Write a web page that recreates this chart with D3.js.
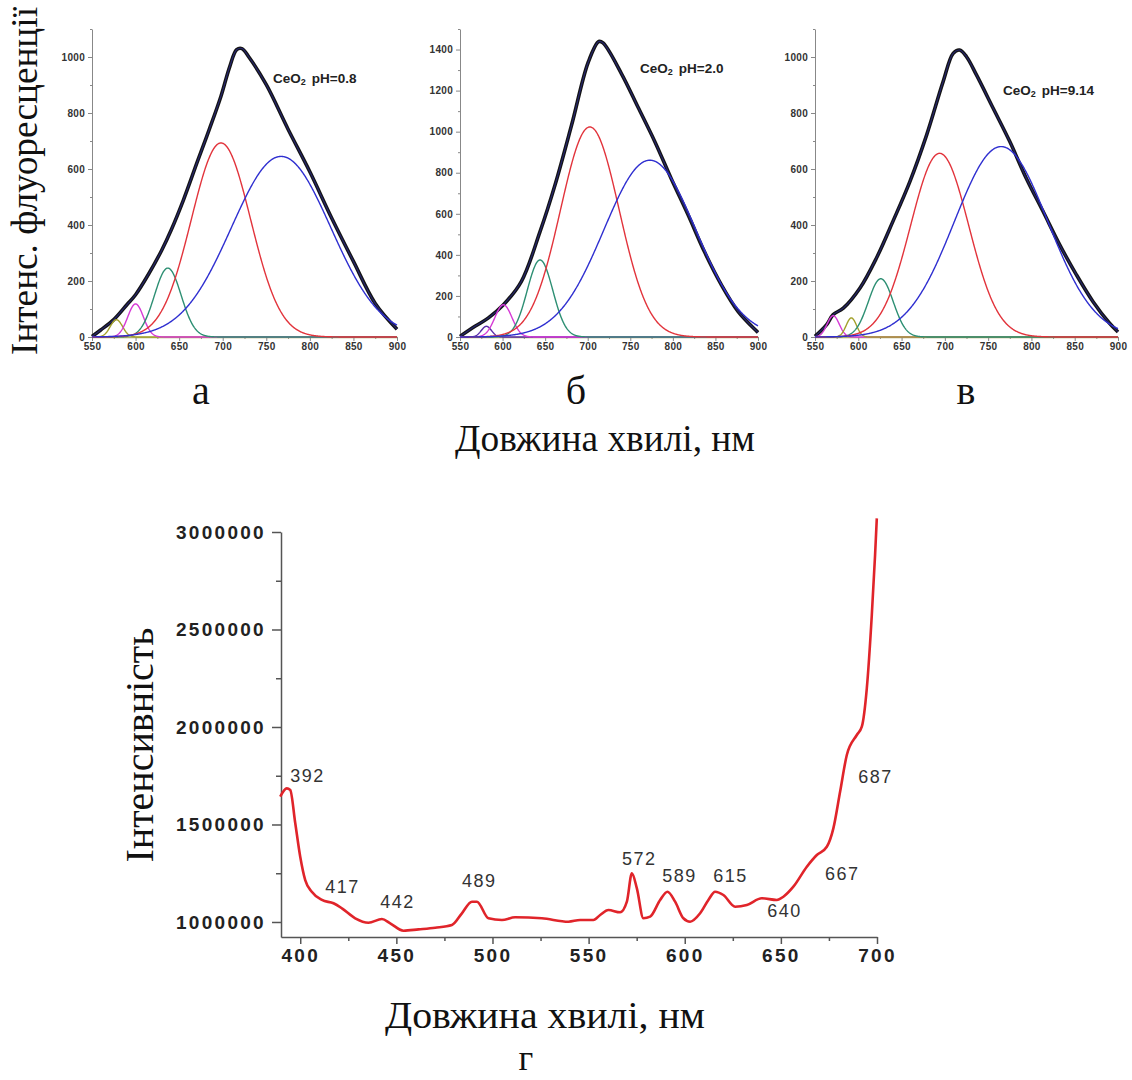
<!DOCTYPE html>
<html>
<head>
<meta charset="utf-8">
<script src="https://cdn.jsdelivr.net/npm/d3@7/dist/d3.min.js"></script>
<style>
  body { margin: 0; background: #fff; }
  .small .tick text { font-family: "Liberation Sans", Arial, sans-serif; font-weight: bold; font-size: 10px; fill: #333; letter-spacing: 0.3px; }
  .big .tick text { font-family: "Liberation Sans", Arial, sans-serif; font-weight: bold; font-size: 19px; fill: #222; letter-spacing: 2.3px; }
  .serif { font-family: "Liberation Serif", "Times New Roman", serif; fill: #111; }
</style>
</head>
<body>
<div id="chart"></div>
<script>

var measuredA = [[550,2],[560,25],[575,62],[590,115],[600,151],[615,225],[630,310],[641,383],[655,490],[671,627],[685,745],[698,860],[708,965],[716,1026],[722,1030],[730,1000],[750,901],[775,742],[800,590],[825,425],[850,270],[875,120],[900,28]];
var measuredB = [[550,3],[567.6,52],[583,92],[601,157],[622,270],[644,513],[661.5,739],[681,1031],[700.6,1338],[713,1439],[718,1432],[739.7,1282],[759,1120],[779,950],[798,772],[818,594],[837,416],[857,254],[876.5,125],[898,30],[900,22]];
var measuredC = [[550,2],[563.5,44],[571,80],[582.7,103],[602,175],[621,282],[640,413],[659.6,555],[679,722],[698,912],[709.6,1013],[717,1025],[725,1001],[736.5,936],[755.8,817],[775,698],[794,567],[813.5,448],[832.7,329],[852,222],[871,127],[890,50],[900,18]];

// ---- fitted gaussian components: centre (nm), height, sigma (nm) ----
var centersA = [578, 600, 637, 698, 767];
var heightsA = [62, 118, 246, 693, 645];
var sigmasA  = [7, 9, 15.3, 34, 57];

var centersB = [581, 601, 644, 702.5, 773];
var heightsB = [52, 157, 375, 1023, 861];
var sigmasB  = [6, 10, 15, 34.4, 54];

var centersC = [571, 592, 626, 694, 765];
var heightsC = [76, 68, 208, 656, 680];
var sigmasC  = [7, 6, 14.4, 33.6, 54];

var panelLabels = ["а", "б", "в"];
var sampleNames = ["pH=0.8", "pH=2.0", "pH=9.14"];

// ---- bottom spectrum (г) ----
var spectrumG = [[389.6,1642600],[393,1685000],[394.8,1677000],[397.4,1507700],[400,1334900],[402.6,1215000],[406,1155000],[411.3,1112800],[417.3,1095900],[421.7,1070000],[428.6,1019000],[435.5,996400],[442.5,1015000],[446.8,993000],[453.7,955400],[461.5,962300],[470.2,970800],[478.9,984600],[484.1,1044600],[489.3,1104100],[491.9,1104100],[497.9,1019000],[504.9,1010300],[511.8,1024100],[525.7,1019000],[539.5,1001500],[545.6,1010300],[552.5,1010000],[556,1035900],[560.3,1061500],[566.4,1049700],[569.9,1104100],[572.5,1249200],[575.1,1172300],[578.5,1019000],[582,1027300],[587.2,1112800],[591,1155400],[595,1104100],[599.3,1019000],[602.8,1001500],[608,1044600],[612.3,1112800],[615.8,1155400],[620.1,1138500],[626.2,1078500],[632.3,1087200],[640.1,1121500],[647.9,1112800],[651.3,1129700],[656.5,1181000],[663.5,1283500],[668.7,1343600],[673.9,1385600],[677.3,1480000],[680.8,1667700],[684.3,1856400],[689.5,1959000],[692.1,2001500],[694.7,2198400],[697.3,2574300],[699,2882000],[699.9,3070000]];
var peakNames = ["392","417","442","489","572","589","615","640","667","687"];
// where each peak label sits (nm of left edge, intensity of baseline)
var peakLabelX = [394.8, 413, 441.6, 484.2, 567.4, 588.3, 614.8, 642.9, 673, 690.2];
var peakLabelY = [1717900, 1148700, 1071800, 1179500, 1292300, 1205100, 1205100, 1025600, 1215400, 1712800];

var yTicksG = [1000000, 1500000, 2000000, 2500000, 3000000];
var yMinorG = [1250000, 1750000, 2250000, 2750000];
var xTicksG = [400, 450, 500, 550, 600, 650, 700];
var xMinorG = [425, 475, 525, 575, 625, 675];

// styles
var compColors = ["#a3a12c", "#d63ad6", "#2d8f73", "#e2343c", "#2f2fd0"];
var compColorsB = ["#5a2aa8", "#d63ad6", "#2d8f73", "#e2343c", "#2f2fd0"];
var compColorsC = ["#d63ad6", "#a3a12c", "#2d8f73", "#e2343c", "#2f2fd0"];

var svg = d3.select("#chart")
    .append("svg")
    .attr("width", 1132)
    .attr("height", 1080)
    .style("background", "#fff");

var panels = [
  { measured: measuredA, c: centersA, h: heightsA, s: sigmasA, colors: compColors, yMax: 1100, yStep: 200,
    x0: 92, x1: 397, name: sampleNames[0], tx: 273, ty: 83, lx: 201 },
  { measured: measuredB, c: centersB, h: heightsB, s: sigmasB, colors: compColorsB, yMax: 1500, yStep: 200,
    x0: 460, x1: 758, name: sampleNames[1], tx: 640, ty: 73, lx: 576 },
  { measured: measuredC, c: centersC, h: heightsC, s: sigmasC, colors: compColorsC, yMax: 1100, yStep: 200,
    x0: 815, x1: 1118, name: sampleNames[2], tx: 1003, ty: 95, lx: 966 }
];

var topY0 = 337, topY1 = 29;

panels.forEach(function(p, i) {
  var g = svg.append("g").attr("class", "small");

  var x = d3.scaleLinear().domain([550, 900]).range([p.x0, p.x1]);
  var y = d3.scaleLinear().domain([0, p.yMax]).range([topY0, topY1]);

  var nm = d3.range(550, 900.5, 0.5);
  var comps = p.c.map(function(c, k) {
    return nm.map(function(w) {
      return [w, p.h[k] * Math.exp(-(w - c) * (w - c) / (2 * p.s[k] * p.s[k]))];
    });
  });

  var line = d3.line()
      .x(function(d) { return x(d[0]); })
      .y(function(d) { return y(d[1]); });

  // axes
  var yTicks = d3.range(0, p.yMax + 1, p.yStep);
  var yMinor = d3.range(100, p.yMax + 1, 200);
  g.append("g")
    .attr("transform", "translate(" + p.x0 + ",0)")
    .call(d3.axisLeft(y).tickValues(yMinor).tickSize(2).tickFormat(""))
    .call(function(a) { a.select(".domain").remove(); a.selectAll("line").attr("stroke", "#888"); });
  g.append("g")
    .attr("transform", "translate(" + p.x0 + ",0)")
    .call(d3.axisLeft(y).tickValues(yTicks).tickSize(4).tickSizeOuter(0).tickPadding(3).tickFormat(d3.format("d")))
    .call(function(a) { a.select(".domain").attr("stroke", "#888"); a.selectAll("line").attr("stroke", "#888"); });

  g.append("g")
    .attr("transform", "translate(0," + topY0 + ")")
    .call(d3.axisBottom(x).tickValues(d3.range(575, 900, 50)).tickSize(2).tickFormat(""))
    .call(function(a) { a.select(".domain").remove(); a.selectAll("line").attr("stroke", "#888"); });
  g.append("g")
    .attr("transform", "translate(0," + topY0 + ")")
    .call(d3.axisBottom(x).tickValues(d3.range(550, 901, 50)).tickSize(4).tickSizeOuter(0).tickPadding(2).tickFormat(d3.format("d")))
    .call(function(a) { a.select(".domain").attr("stroke", "#b0ad6a").attr("stroke-width", 1.5); a.selectAll("line").attr("stroke", "#888"); });

  // measured spectrum with its cumulative fit on top
  g.append("path")
    .datum(p.measured)
    .attr("d", line.curve(d3.curveCatmullRom.alpha(0.5)))
    .attr("fill", "none")
    .attr("stroke", "#141414")
    .attr("stroke-width", 3.6);
  g.append("path")
    .datum(p.measured)
    .attr("d", line.curve(d3.curveCatmullRom.alpha(0.5)))
    .attr("fill", "none")
    .attr("stroke", "#262670")
    .attr("stroke-width", 1.1);

  // components
  comps.forEach(function(cv, k) {
    g.append("path")
      .datum(cv)
      .attr("d", line.curve(d3.curveLinear))
      .attr("fill", "none")
      .attr("stroke", p.colors[k])
      .attr("stroke-width", 1.4);
  });

  // sample label
  var t = g.append("text")
    .attr("x", p.tx)
    .attr("y", p.ty)
    .style("font-family", "'Liberation Sans', Arial, sans-serif")
    .style("font-weight", "bold")
    .style("font-size", "13.5px")
    .style("fill", "#222");
  t.append("tspan").text("CeO");
  t.append("tspan").attr("dy", 2).style("font-size", "9px").text("2");
  t.append("tspan").attr("dy", -2).attr("dx", 6).text(p.name);

  svg.append("text")
    .attr("class", "serif")
    .attr("x", p.lx)
    .attr("y", 404)
    .attr("text-anchor", "middle")
    .style("font-size", "40px")
    .text(panelLabels[i]);
});

svg.append("text")
  .attr("class", "serif")
  .attr("transform", "translate(37,181) rotate(-90)")
  .attr("text-anchor", "middle")
  .attr("textLength", 348)
  .attr("lengthAdjust", "spacingAndGlyphs")
  .style("font-size", "37px")
  .text("Інтенс. флуоресценції");

svg.append("text")
  .attr("class", "serif")
  .attr("x", 605)
  .attr("y", 451)
  .attr("text-anchor", "middle")
  .attr("textLength", 300)
  .attr("lengthAdjust", "spacingAndGlyphs")
  .style("font-size", "38px")
  .text("Довжина хвилі, нм");

// ---- bottom panel г ----
var gB = svg.append("g").attr("class", "big");
var xG = d3.scaleLinear().domain([390, 700]).range([281, 877]);
var yG = d3.scaleLinear().domain([923000, 3000000]).range([937, 532]);

gB.append("g")
  .attr("transform", "translate(281,0)")
  .call(d3.axisLeft(yG).tickValues(yMinorG).tickSize(5).tickFormat(""))
  .call(function(a) { a.select(".domain").remove(); a.selectAll("line").attr("stroke", "#555").attr("stroke-width", 1.5); });
gB.append("g")
  .attr("transform", "translate(281,0)")
  .call(d3.axisLeft(yG).tickValues(yTicksG).tickSize(9).tickSizeOuter(0).tickPadding(6).tickFormat(d3.format("d")))
  .call(function(a) { a.select(".domain").attr("stroke", "#555").attr("stroke-width", 1.5); a.selectAll("line").attr("stroke", "#555").attr("stroke-width", 1.5); });

gB.append("g")
  .attr("transform", "translate(0,937)")
  .call(d3.axisBottom(xG).tickValues(xMinorG).tickSize(4).tickFormat(""))
  .call(function(a) { a.select(".domain").remove(); a.selectAll("line").attr("stroke", "#555").attr("stroke-width", 1.5); });
gB.append("g")
  .attr("transform", "translate(0,937)")
  .call(d3.axisBottom(xG).tickValues(xTicksG).tickSize(7).tickSizeOuter(0).tickPadding(5))
  .call(function(a) { a.select(".domain").attr("stroke", "#555").attr("stroke-width", 1.5); a.selectAll("line").attr("stroke", "#555").attr("stroke-width", 1.5); });

gB.append("path")
  .datum(spectrumG)
  .attr("d", d3.line()
    .x(function(d) { return xG(d[0]); })
    .y(function(d) { return yG(d[1]); })
    .curve(d3.curveMonotoneX))
  .attr("fill", "none")
  .attr("stroke", "#e0242a")
  .attr("stroke-width", 2.6);

gB.selectAll("text.peak")
  .data(peakNames)
  .enter()
  .append("text")
  .attr("class", "peak")
  .attr("x", function(d, i) { return xG(peakLabelX[i]); })
  .attr("y", function(d, i) { return yG(peakLabelY[i]); })
  .style("font-family", "'Liberation Sans', Arial, sans-serif")
  .style("font-size", "18px")
  .style("letter-spacing", "1.5px")
  .style("fill", "#333")
  .text(function(d) { return d; });

svg.append("text")
  .attr("class", "serif")
  .attr("transform", "translate(153,745) rotate(-90)")
  .attr("text-anchor", "middle")
  .attr("textLength", 235)
  .attr("lengthAdjust", "spacingAndGlyphs")
  .style("font-size", "40px")
  .text("Інтенсивність");

svg.append("text")
  .attr("class", "serif")
  .attr("x", 545)
  .attr("y", 1028)
  .attr("text-anchor", "middle")
  .attr("textLength", 320)
  .attr("lengthAdjust", "spacingAndGlyphs")
  .style("font-size", "38px")
  .text("Довжина хвилі, нм");

svg.append("text")
  .attr("class", "serif")
  .attr("x", 526)
  .attr("y", 1070)
  .attr("text-anchor", "middle")
  .style("font-size", "36px")
  .text("г");

</script>
</body>
</html>
